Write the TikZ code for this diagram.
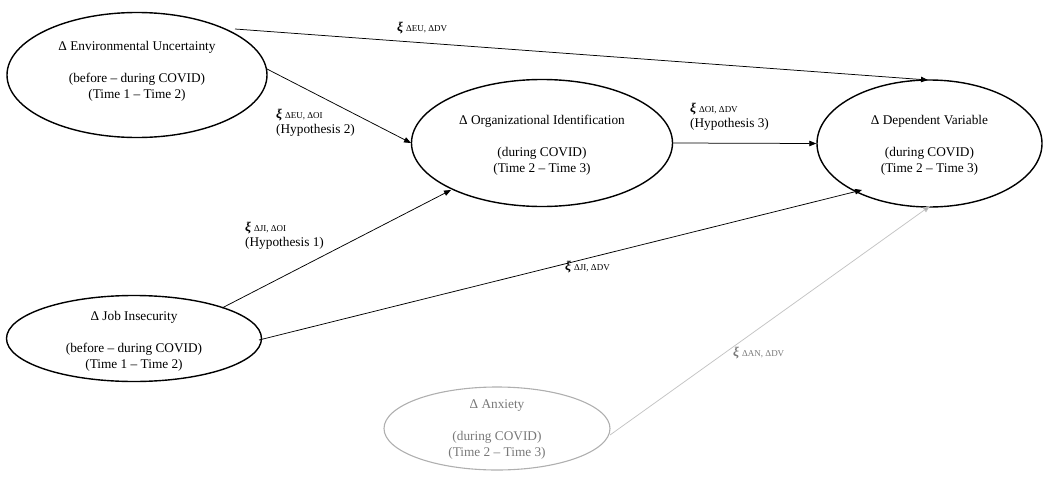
\documentclass[tikz,border=0pt]{standalone}
\usepackage{fontspec}
\setmainfont{Liberation Serif}
\usetikzlibrary{arrows.meta,shapes.geometric}
\definecolor{lgray}{RGB}{175,175,175}
\definecolor{agray}{RGB}{195,195,195}
\definecolor{tgray}{RGB}{120,120,120}
\tikzset{
  var/.style={ellipse, draw, line width=1.4pt, inner sep=0pt},
  vtext/.style={font=\fontsize{13.3}{16}\selectfont, align=center, inner sep=0pt},
  conn/.style={line width=0.75pt, -{Triangle[length=7pt,width=5.5pt]}},
  lab/.style={font=\fontsize{13.3}{15.5}\selectfont, align=left, inner sep=0pt, anchor=west},
}
\newcommand{\xib}{\textbf{\textit{ξ}}}
\newcommand{\subs}[1]{\hspace{3pt}{\fontsize{9}{10}\selectfont #1}}
\begin{document}
\begin{tikzpicture}[x=1pt,y=-1pt]
\useasboundingbox (0,0) rectangle (1050,482);
\node[var, minimum width=260pt, minimum height=125pt] (eu) at (137,75) {};
\node[vtext] (eut) at (137,71) {Δ Environmental Uncertainty\\[16pt](before – during COVID)\\(Time 1 – Time 2)};
\node[var, minimum width=261pt, minimum height=127pt] (oi) at (542,143) {};
\node[vtext] (oit) at (542,145) {Δ Organizational Identification\\[16pt](during COVID)\\(Time 2 – Time 3)};
\node[var, minimum width=225pt, minimum height=127pt] (dv) at (929.5,143.5) {};
\node[vtext] (dvt) at (929.5,145.5) {Δ Dependent Variable\\[16pt](during COVID)\\(Time 2 – Time 3)};
\node[var, minimum width=255pt, minimum height=86pt] (ji) at (134,338.5) {};
\node[vtext] (jit) at (134,341) {Δ Job Insecurity\\[16pt](before – during COVID)\\(Time 1 – Time 2)};
\node[var, draw=lgray, line width=1.1pt, minimum width=226pt, minimum height=83pt] (an) at (497,428.5) {};
\node[vtext, text=tgray] (ant) at (497,430) {Δ Anxiety\\[16pt](during COVID)\\(Time 2 – Time 3)};

\coordinate (eu1) at (235,29);
\coordinate (dv1) at (928,80);
\coordinate (eu2) at (267,69);
\coordinate (oi1) at (411,143);
\coordinate (ji1) at (222,308);
\coordinate (oi2) at (451,190);
\coordinate (ji2) at (259,340);
\coordinate (dv2) at (862,190);
\coordinate (an1) at (610,435);
\coordinate (dv3) at (930,206);

\draw[conn] (eu1) -- (dv1);
\draw[conn] (eu2) -- (oi1);
\draw[conn] (oi.east) -- (dv.west);
\draw[conn] (ji1) -- (oi2);
\draw[conn] (ji2) -- (dv2);
\draw[line width=0.75pt, draw=agray, -{Triangle[length=7pt,width=5.5pt,fill=lgray]}] (an1) -- (dv3);

\node[lab] (l1) at (397,28) {\xib\subs{ΔEU, ΔDV}};
\node[lab] (l2) at (276,123) {\xib\subs{ΔEU, ΔOI}\\(Hypothesis 2)};
\node[lab] (l3) at (690,117) {\xib\subs{ΔOI, ΔDV}\\(Hypothesis 3)};
\node[lab] (l4) at (245,236) {\xib\subs{ΔJI, ΔOI}\\(Hypothesis 1)};
\node[lab] (l5) at (565,267) {\xib\subs{ΔJI, ΔDV}};
\node[lab, text=tgray] (l6) at (733,353) {\xib\subs{ΔAN, ΔDV}};
\end{tikzpicture}
\end{document}
